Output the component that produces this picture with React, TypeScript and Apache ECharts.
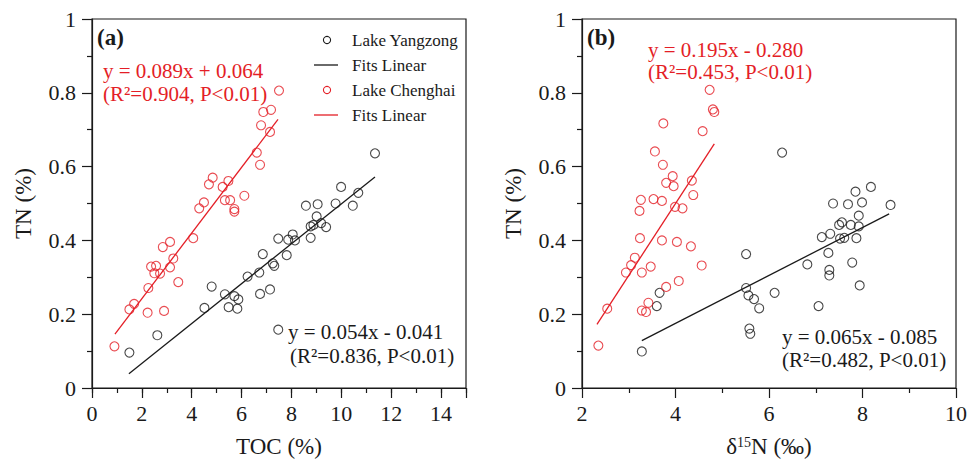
import React, { useEffect, useRef } from "react";
import * as echarts from "echarts";

// ---- Panel (a): TOC (%) vs TN (%) ----
const yangzongTOC: [number, number][] = [
  [1.5, 0.096], [2.62, 0.143], [4.51, 0.217], [4.8, 0.275], [5.33, 0.254],
  [5.48, 0.219], [5.71, 0.249], [5.87, 0.24], [5.83, 0.215], [6.24, 0.302],
  [6.71, 0.313], [6.85, 0.363], [6.74, 0.255], [7.14, 0.267], [7.25, 0.338],
  [7.31, 0.331], [7.47, 0.405], [7.47, 0.158], [7.81, 0.36], [7.87, 0.402],
  [8.05, 0.416], [8.14, 0.4], [8.77, 0.407], [8.58, 0.494], [9.05, 0.498],
  [9.01, 0.465], [8.77, 0.438], [8.88, 0.442], [9.19, 0.447], [9.39, 0.436],
  [9.77, 0.5], [9.99, 0.545], [10.46, 0.494], [10.68, 0.529], [11.35, 0.636],
];
const chenghaiTOC: [number, number][] = [
  [0.9, 0.113], [1.5, 0.213], [1.69, 0.228], [2.23, 0.204], [2.26, 0.271],
  [2.37, 0.329], [2.57, 0.331], [2.5, 0.311], [2.73, 0.31], [2.89, 0.209],
  [2.84, 0.382], [3.13, 0.396], [3.13, 0.327], [3.26, 0.351], [3.46, 0.287],
  [4.06, 0.406], [4.3, 0.487], [4.49, 0.503], [4.69, 0.552], [4.84, 0.57],
  [5.24, 0.545], [5.33, 0.509], [5.54, 0.509], [5.47, 0.561], [5.71, 0.485],
  [5.71, 0.478], [6.11, 0.521], [6.61, 0.638], [6.74, 0.605], [6.78, 0.712],
  [6.87, 0.748], [7.14, 0.694], [7.18, 0.754], [7.5, 0.806],
];

// ---- Panel (b): δ15N (‰) vs TN (%) ----
const yangzongD15N: [number, number][] = [
  [3.28, 0.099], [3.6, 0.222], [3.66, 0.258], [5.51, 0.363], [5.51, 0.271],
  [5.56, 0.251], [5.68, 0.241], [5.79, 0.216], [5.58, 0.161], [5.6, 0.147],
  [6.12, 0.258], [6.28, 0.638], [6.82, 0.335], [7.06, 0.222], [7.13, 0.409],
  [7.27, 0.366], [7.29, 0.32], [7.29, 0.305], [7.31, 0.418], [7.37, 0.5],
  [7.5, 0.442], [7.56, 0.449], [7.52, 0.405], [7.61, 0.407], [7.69, 0.498],
  [7.75, 0.442], [7.78, 0.34], [7.85, 0.532], [8.18, 0.545], [7.87, 0.406],
  [7.92, 0.467], [7.92, 0.438], [7.99, 0.503], [7.94, 0.278], [8.6, 0.496],
];
const chenghaiD15N: [number, number][] = [
  [2.35, 0.115], [2.54, 0.215], [2.94, 0.313], [3.05, 0.333], [3.13, 0.353],
  [3.24, 0.406], [3.23, 0.48], [3.26, 0.51], [3.28, 0.313], [3.28, 0.21],
  [3.37, 0.206], [3.42, 0.231], [3.47, 0.329], [3.53, 0.512], [3.71, 0.507],
  [3.71, 0.4], [3.8, 0.274], [3.8, 0.556], [3.96, 0.547], [3.94, 0.574],
  [3.99, 0.491], [4.03, 0.396], [4.07, 0.29], [4.15, 0.487], [4.33, 0.384],
  [4.35, 0.562], [4.38, 0.523], [4.56, 0.332], [4.73, 0.808], [4.8, 0.755],
  [4.83, 0.748], [3.74, 0.717], [4.58, 0.696], [3.56, 0.641], [3.73, 0.605],
];

// Linear fits: [slope, intercept, xStart, xEnd]
const fitYangzongTOC = [0.054, -0.041, 1.48, 11.35];
const fitChenghaiTOC = [0.089, 0.064, 0.92, 7.46];
const fitYangzongD15N = [0.065, -0.085, 3.28, 8.57];
const fitChenghaiD15N = [0.195, -0.28, 2.32, 4.83];

// Axis ticks
const tnTicks = [0, 0.2, 0.4, 0.6, 0.8, 1];
const tocTicks = [0, 2, 4, 6, 8, 10, 12, 14];
const d15nTicks = [2, 4, 6, 8, 10];

const legendLabels = ["Lake Yangzong", "Fits Linear", "Lake Chenghai", "Fits Linear"];

const SERIF = '"Liberation Serif", "Times New Roman", Times, serif';
const RED = "#e41e26";
const INK = "#1a1a1a";

function fitLine(fit: number[]): [number, number][] {
  const [k, b, x0, x1] = fit;
  return [
    [x0, k * x0 + b],
    [x1, k * x1 + b],
  ];
}

const tickLine = { color: INK, width: 1.2 };

function tnAxis(gridIndex: number) {
  return {
    type: "value",
    gridIndex,
    min: tnTicks[0],
    max: tnTicks[tnTicks.length - 1],
    interval: tnTicks[1] - tnTicks[0],
    name: "TN (%)",
    nameLocation: "middle",
    nameGap: 57,
    nameTextStyle: { fontFamily: SERIF, fontSize: 23, color: INK },
    axisLine: { show: true, lineStyle: tickLine },
    axisTick: { show: true, length: 10, lineStyle: tickLine },
    minorTick: { show: true, splitNumber: 2, length: 5, lineStyle: tickLine },
    axisLabel: { fontFamily: SERIF, fontSize: 22, color: INK, margin: 16 },
    splitLine: { show: false },
    minorSplitLine: { show: false },
  };
}

function scatter(name: string, data: [number, number][], color: string, xi: number, yi: number) {
  return {
    type: "scatter",
    name,
    xAxisIndex: xi,
    yAxisIndex: yi,
    data,
    symbol: "circle",
    symbolSize: 9,
    itemStyle: { color: "rgba(255,255,255,0)", borderColor: color, borderWidth: 1.1 },
    silent: true,
  };
}

function fit(name: string, f: number[], color: string, xi: number, yi: number) {
  return {
    type: "line",
    name,
    xAxisIndex: xi,
    yAxisIndex: yi,
    data: fitLine(f),
    symbol: "none",
    lineStyle: { color, width: 1.3 },
    silent: true,
  };
}

function eqText(x: number, y: number, text: string, color: string) {
  return {
    type: "text",
    x,
    y,
    silent: true,
    style: {
      text,
      fill: color,
      fontFamily: SERIF,
      fontSize: 21,
      verticalAlign: "middle",
      align: "left",
    },
  };
}

export default function App() {
  const ref = useRef<HTMLDivElement>(null);

  useEffect(() => {
    if (!ref.current) return;
    const chart = echarts.init(ref.current, undefined, { renderer: "svg" });

    const legendX = 314;
    const legendRows = [40, 65, 90, 115];
    const legendColors = [INK, INK, RED, RED];
    const legendGraphics: any[] = [];
    legendRows.forEach((ry, i) => {
      if (i % 2 === 0) {
        legendGraphics.push({
          type: "circle",
          silent: true,
          shape: { cx: legendX + 13, cy: ry, r: 3.6 },
          style: { fill: "none", stroke: legendColors[i], lineWidth: 1.1 },
        });
      } else {
        legendGraphics.push({
          type: "line",
          silent: true,
          shape: { x1: legendX, y1: ry, x2: legendX + 24, y2: ry },
          style: { stroke: legendColors[i], lineWidth: 1.3 },
        });
      }
      legendGraphics.push({
        type: "text",
        x: 352,
        y: ry,
        silent: true,
        style: {
          text: legendLabels[i],
          fill: INK,
          fontFamily: SERIF,
          fontSize: 17,
          verticalAlign: "middle",
        },
      });
    });

    const option: any = {
      animation: false,
      backgroundColor: "#ffffff",
      grid: [
        { left: 92, top: 19, width: 374, height: 374, show: true, borderColor: INK, borderWidth: 1.2, backgroundColor: "transparent" },
        { left: 582, top: 19, width: 374, height: 374, show: true, borderColor: INK, borderWidth: 1.2, backgroundColor: "transparent" },
      ],
      xAxis: [
        // minor ticks of the TOC axis (every 1 %)
        {
          type: "value",
          gridIndex: 0,
          position: "bottom",
          min: 0,
          max: 15,
          interval: 1,
          axisLine: { show: true, lineStyle: tickLine },
          axisTick: { show: true, length: 5, lineStyle: tickLine },
          axisLabel: { show: false },
          splitLine: { show: false },
        },
        // major ticks and labels of the TOC axis
        {
          type: "value",
          gridIndex: 0,
          position: "bottom",
          min: 0,
          max: 15,
          interval: tocTicks[1] - tocTicks[0],
          name: "TOC (%)",
          nameLocation: "middle",
          nameGap: 47,
          nameTextStyle: { fontFamily: SERIF, fontSize: 23, color: INK },
          axisLine: { show: true, lineStyle: tickLine },
          axisTick: { show: true, length: 10, lineStyle: tickLine },
          axisLabel: {
            fontFamily: SERIF,
            fontSize: 22,
            color: INK,
            margin: 14,
            formatter: (v: number) => (tocTicks.includes(v) ? String(v) : ""),
          },
          splitLine: { show: false },
        },
        {
          type: "value",
          gridIndex: 1,
          position: "bottom",
          min: d15nTicks[0],
          max: d15nTicks[d15nTicks.length - 1],
          interval: d15nTicks[1] - d15nTicks[0],
          name: "{t|δ}{s|15}{t|N (‰)}",
          nameLocation: "middle",
          nameGap: 47,
          nameTextStyle: {
            fontFamily: SERIF,
            fontSize: 23,
            color: INK,
            rich: {
              t: { fontFamily: SERIF, fontSize: 23, color: INK },
              s: { fontFamily: SERIF, fontSize: 14, color: INK, verticalAlign: "top", padding: [0, 0, 8, 0] },
            },
          },
          axisLine: { show: true, lineStyle: tickLine },
          axisTick: { show: true, length: 10, lineStyle: tickLine },
          minorTick: { show: true, splitNumber: 2, length: 5, lineStyle: tickLine },
          axisLabel: { fontFamily: SERIF, fontSize: 22, color: INK, margin: 14 },
          splitLine: { show: false },
          minorSplitLine: { show: false },
        },
      ],
      yAxis: [tnAxis(0), tnAxis(1)],
      series: [
        scatter("Lake Yangzong", yangzongTOC, INK, 0, 0),
        fit("Fits Linear (Yangzong)", fitYangzongTOC, INK, 0, 0),
        scatter("Lake Chenghai", chenghaiTOC, RED, 0, 0),
        fit("Fits Linear (Chenghai)", fitChenghaiTOC, RED, 0, 0),
        scatter("Lake Yangzong δ15N", yangzongD15N, INK, 2, 1),
        fit("Fits Linear (Yangzong δ15N)", fitYangzongD15N, INK, 2, 1),
        scatter("Lake Chenghai δ15N", chenghaiD15N, RED, 2, 1),
        fit("Fits Linear (Chenghai δ15N)", fitChenghaiD15N, RED, 2, 1),
      ],
      graphic: [
        {
          type: "text",
          x: 97,
          y: 37,
          silent: true,
          style: { text: "(a)", fill: INK, fontFamily: SERIF, fontSize: 23, fontWeight: "bold", verticalAlign: "middle" },
        },
        {
          type: "text",
          x: 587,
          y: 37,
          silent: true,
          style: { text: "(b)", fill: INK, fontFamily: SERIF, fontSize: 23, fontWeight: "bold", verticalAlign: "middle" },
        },
        eqText(103, 71, "y = 0.089x + 0.064", RED),
        eqText(103, 94, "(R²=0.904, P<0.01)", RED),
        eqText(288, 332, "y = 0.054x - 0.041", INK),
        eqText(290, 356, "(R²=0.836, P<0.01)", INK),
        eqText(648, 50, "y = 0.195x - 0.280", RED),
        eqText(648, 72, "(R²=0.453, P<0.01)", RED),
        eqText(782, 337, "y = 0.065x - 0.085", INK),
        eqText(782, 360, "(R²=0.482, P<0.01)", INK),
        ...legendGraphics,
      ],
    };

    chart.setOption(option);
    return () => chart.dispose();
  }, []);

  return (
    <div
      ref={ref}
      style={{ position: "fixed", left: 0, top: 0, width: 979, height: 463, background: "#fff" }}
    />
  );
}
